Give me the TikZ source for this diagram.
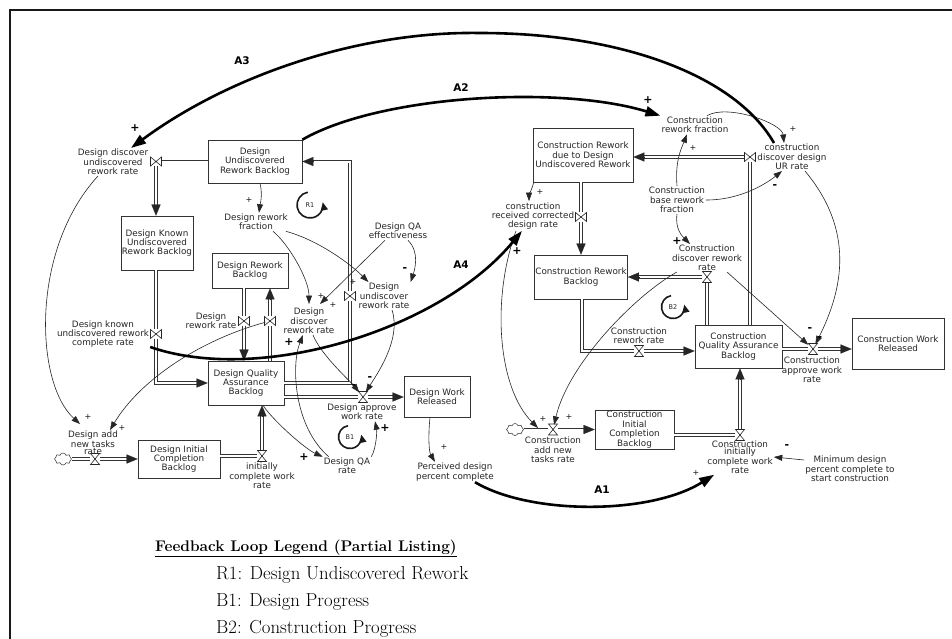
\documentclass[tikz,border=0pt]{standalone}
\usepackage{fontspec}
\usetikzlibrary{arrows.meta,calc,shapes.symbols}
\newfontfamily\labfam{DejaVu Sans}
\newcommand\labfont{\labfam\fontsize{8.8}{9.4}\selectfont}
\begin{document}
\begin{tikzpicture}[x=1pt,y=-1pt,
  box/.style={draw=black!80, line width=0.7pt, fill=white, align=center, font=\labfont, text=black!85, inner sep=1pt},
  lbl/.style={align=center, font=\labfont, text=black!85, inner sep=1pt},
  pipe/.style={draw=black!80, line width=0.6pt, double=white, double distance=2pt, shorten >=10pt},
  pipetip/.style={draw=black!85, line width=0.1pt, -{Triangle[length=11pt,width=9pt]}},
  vnode/.style={inner sep=0pt, minimum size=9pt},
  valve/.style={draw=black!85, fill=white, line width=0.6pt},
  vbow/.pic={\draw[valve] (-5.5,-4.5) -- (5.5,4.5) -- (5.5,-4.5) -- (-5.5,4.5) -- cycle;},
  vhour/.pic={\draw[valve] (-4.5,-5.5) -- (4.5,-5.5) -- (-4.5,5.5) -- (4.5,5.5) -- cycle;},
  source/.style={cloud, cloud puffs=8, aspect=1.4, draw=black!80, line width=0.5pt, minimum width=17pt, minimum height=12pt, inner sep=0pt},
  info/.style={draw=black!85, line width=0.6pt, -{Triangle[length=8.5pt,width=6pt]}},
  bold link/.style={draw=black, line width=2.6pt, -{Triangle[length=15pt,width=10pt]}},
  pol/.style={font=\labfam\fontsize{8}{8}\selectfont, inner sep=0pt, text=black!90},
  polb/.style={font=\labfam\bfseries\fontsize{11}{11}\selectfont, inner sep=0pt},
  alabel/.style={font=\labfam\bfseries\fontsize{10.5}{12}\selectfont, inner sep=0pt},
  looplbl/.style={font=\labfam\fontsize{6.5}{7}\selectfont, inner sep=0pt, text=black!85},
  looparc/.style={draw=black!90, line width=1.6pt, -{Triangle[length=8pt,width=7pt]}},
  legend/.style={anchor=base west, inner sep=0pt, font=\fontsize{18.8}{22}\selectfont}
]
\useasboundingbox (0,0) rectangle (952,638);
\fill[white] (0,0) rectangle (952,638);

% outer frame
\draw[line width=1.8pt, black!90] (10,660) -- (10,10) -- (970,10);

% ---------- stocks ----------
\node[box, minimum width=94pt, minimum height=43pt] (durb) at (255,161.5) {Design\\Undiscovered\\Rework Backlog};
\node[box, minimum width=72pt, minimum height=54pt] (dkurb) at (157,243) {Design Known\\Undiscovered\\Rework Backlog};
\node[box, minimum width=76pt, minimum height=35pt] (drb) at (250,270.5) {Design Rework\\Backlog};
\node[box, minimum width=76pt, minimum height=44pt] (dqab) at (246,383) {Design Quality\\Assurance\\Backlog};
\node[box, minimum width=66pt, minimum height=41pt] (dwr) at (437,396.5) {Design Work\\Released};
\node[box, minimum width=82pt, minimum height=38pt] (dicb) at (179,459) {Design Initial\\Completion\\Backlog};
\node[box, minimum width=100pt, minimum height=54pt] (crdur) at (583,155) {Construction Rework\\due to Design\\Undiscovered Rework};
\node[box, minimum width=92pt, minimum height=44pt] (crb) at (581,277) {Construction Rework\\Backlog};
\node[box, minimum width=87pt, minimum height=43pt] (cqab) at (738.5,346.5) {Construction\\Quality Assurance\\Backlog};
\node[box, minimum width=92pt, minimum height=51pt] (cwr) at (898,343.5) {Construction Work\\Released};
\node[box, minimum width=79pt, minimum height=39pt] (cicb) at (634.5,429.5) {Construction\\Initial\\Completion\\Backlog};

% ---------- sources ----------
\node[source] (cl1) at (63,459) {};
\node[source] (cl2) at (515,429.5) {};

% ---------- valve positions ----------
\node[vnode] (v_ddu) at (156,161.5) {};
\node[vnode] (v_dkc) at (156,334) {};
\node[vnode] (v_drr) at (244,321) {};
\node[vnode] (v_ddr) at (270,321) {};
\node[vnode] (v_dur) at (350,296) {};
\node[vnode] (v_daw) at (363,397) {};
\node[vnode] (v_dant) at (95,459) {};
\node[vnode] (v_icw) at (262,456) {};
\node[vnode] (v_cant) at (553,429.5) {};
\node[vnode] (v_cicw) at (740,435) {};
\node[vnode] (v_caw) at (813,349) {};
\node[vnode] (v_cdr) at (707,277) {};
\node[vnode] (v_crr) at (639,351) {};
\node[vnode] (v_cdd) at (750,157) {};
\node[vnode] (v_crc) at (581,217) {};
\coordinate (k1) at (350,383);
\coordinate (k2) at (350,161.5);
\coordinate (k3) at (156,383);
\coordinate (k4) at (582,351);

% ---------- flows (design) ----------
\draw[pipe] (cl1.east) -- (v_dant) -- (dicb.west);
\draw[pipetip] ($(dicb.west)+(-11,0)$) -- (dicb.west);
\draw[pipe] (dicb.east |- v_icw) -- (v_icw) -- (v_icw |- dqab.south);
\draw[pipetip] ($(v_icw |- dqab.south)+(0,11)$) -- (v_icw |- dqab.south);
\draw[pipe] (dqab.east |- v_daw) -- (v_daw) -- (dwr.west |- v_daw);
\draw[pipetip] ($(dwr.west |- v_daw)+(-11,0)$) -- (dwr.west |- v_daw);
\draw[pipe] (v_ddr |- dqab.north) -- (v_ddr) -- (v_ddr |- drb.south);
\draw[pipetip] ($(v_ddr |- drb.south)+(0,11)$) -- (v_ddr |- drb.south);
\draw[pipe] (v_drr |- drb.south) -- (v_drr) -- (v_drr |- dqab.north);
\draw[pipetip] ($(v_drr |- dqab.north)+(0,-11)$) -- (v_drr |- dqab.north);
\draw[pipe] (dqab.east |- k1) -- (k1) -- (v_dur) -- (k2) -- (durb.east |- k2);
\draw[pipetip] ($(durb.east |- k2)+(11,0)$) -- (durb.east |- k2);
\draw[pipe] (durb.west) -- (v_ddu) -- (v_ddu |- dkurb.north);
\draw[pipetip] ($(v_ddu |- dkurb.north)+(0,-11)$) -- (v_ddu |- dkurb.north);
\draw[pipe] (v_dkc |- dkurb.south) -- (v_dkc) -- (k3) -- (dqab.west);
\draw[pipetip] ($(dqab.west)+(-11,0)$) -- (dqab.west);

% ---------- flows (construction) ----------
\draw[pipe] (cl2.east) -- (v_cant) -- (cicb.west |- v_cant);
\draw[pipetip] ($(cicb.west |- v_cant)+(-11,0)$) -- (cicb.west |- v_cant);
\draw[pipe] (cicb.east |- v_cicw) -- (v_cicw) -- (v_cicw |- cqab.south);
\draw[pipetip] ($(v_cicw |- cqab.south)+(0,11)$) -- (v_cicw |- cqab.south);
\draw[pipe] (cqab.east |- v_caw) -- (v_caw) -- (cwr.west |- v_caw);
\draw[pipetip] ($(cwr.west |- v_caw)+(-11,0)$) -- (cwr.west |- v_caw);
\draw[pipe] (v_cdr |- cqab.north) -- (v_cdr) -- (crb.east |- v_cdr);
\draw[pipetip] ($(crb.east |- v_cdr)+(11,0)$) -- (crb.east |- v_cdr);
\draw[pipe] (k4 |- crb.south) -- (k4) -- (v_crr) -- (cqab.west |- v_crr);
\draw[pipetip] ($(cqab.west |- v_crr)+(-11,0)$) -- (cqab.west |- v_crr);
\draw[pipe] (v_cdd |- cqab.north) -- (v_cdd) -- (crdur.east |- v_cdd);
\draw[pipetip] ($(crdur.east |- v_cdd)+(11,0)$) -- (crdur.east |- v_cdd);
\draw[pipe] (v_crc |- crdur.south) -- (v_crc) -- (v_crc |- crb.north);
\draw[pipetip] ($(v_crc |- crb.north)+(0,-11)$) -- (v_crc |- crb.north);

% ---------- valves ----------
\foreach \v in {v_ddu,v_dkc,v_drr,v_ddr,v_dur,v_cdd,v_crc} \pic at (\v) {vbow};
\foreach \v in {v_daw,v_dant,v_icw,v_cant,v_cicw,v_caw,v_cdr,v_crr} \pic at (\v) {vhour};

% ---------- auxiliaries and rate labels ----------
\node[lbl] (ddurl) at (113,162) {Design discover\\undiscovered\\rework rate};
\node[lbl] (drfl) at (256,222) {Design rework\\fraction};
\node[lbl] (dqae) at (398,231) {Design QA\\effectiveness};
\node[lbl] (dudl) at (384,296) {Design\\undiscover\\rework rate};
\node[lbl] (ddrl) at (309,321) {Design\\discover\\rework rate};
\node[lbl] (drrl) at (211,321) {Design\\rework rate};
\node[lbl] (dkcl) at (103,334) {Design known\\undiscovered rework\\complete rate};
\node[lbl] (dawl) at (362,412) {Design approve\\work rate};
\node[lbl] (dqar) at (347,466) {Design QA\\rate};
\node[lbl] (icwl) at (262,476) {initially\\complete work\\rate};
\node[lbl, font=\labfam\fontsize{8.8}{7.2}\selectfont] (dantl) at (93,443) {Design add\\new tasks\\rate};
\node[lbl] (pdpc) at (455,472) {Perceived design\\percent complete};
\node[lbl] (crfl) at (695,125) {Construction\\rework fraction};
\node[lbl] (cddurl) at (792,157) {construction\\discover design\\UR rate};
\node[lbl] (cbrf) at (677,200) {Construction\\base rework\\fraction};
\node[lbl] (crcl) at (533,216) {construction\\received corrected\\design rate};
\node[lbl] (cdrl) at (707,258) {Construction\\discover rework\\rate};
\node[lbl] (crrl) at (639,336) {Construction\\rework rate};
\node[lbl] (cawl) at (812,370) {Construction\\approve work\\rate};
\node[lbl] (cantl) at (553,450) {Construction\\add new\\tasks rate};
\node[lbl, font=\labfam\fontsize{8.8}{7.6}\selectfont] (ciwl) at (740,457) {Construction\\initially\\complete work\\rate};
\node[lbl] (mdpc) at (850,469) {Minimum design\\percent complete to\\start construction};

% ---------- loop markers ----------
\node[looplbl] (r1) at (310,205) {R1};
\draw[looparc] (r1.center) ++(100:13pt) arc[start angle=100, end angle=372, radius=13pt];
\node[looplbl] (b1) at (350,437) {B1};
\draw[looparc] (b1.center) ++(100:11.5pt) arc[start angle=100, end angle=372, radius=11.5pt];
\node[looplbl] (b2) at (673,307) {B2};
\draw[looparc] (b2.center) ++(100:11.5pt) arc[start angle=100, end angle=372, radius=11.5pt];

% ---------- information links (design) ----------
\draw[info] ([xshift=5pt]durb.south) .. controls +(3,12) and +(1,-8) .. ([xshift=3pt]drfl.north);
\draw[info] ([xshift=17pt]drfl.south) .. controls +(15,12) and +(0,-25) .. ([yshift=3pt]ddrl.north);
\draw[info] ([xshift=-3pt]drfl.south east) .. controls +(30,8) and +(-20,-20) .. ([xshift=11pt]dudl.north west);
\draw[info] ([xshift=10pt]dqae.south) .. controls +(12,12) and +(4,-12) .. (dudl.north east);
\draw[info] ([xshift=-13pt]dqae.south) -- ([xshift=11pt,yshift=3pt]ddrl.north);
\draw[info] ([xshift=8pt]dudl.south) .. controls +(10,30) and +(12,-20) .. (v_daw);
\draw[info] ([xshift=4pt]ddrl.south) .. controls +(8,20) and +(-12,-15) .. (v_daw);
\draw[info] ([xshift=17pt]dqab.south) .. controls +(10,15) and +(-18,-8) .. (dqar.north west);
\draw[info] ([xshift=6pt]dqar.north west) .. controls +(-35,-30) and +(-12,30) .. ([xshift=-6pt]ddrl.south);
\draw[info] (dqar.north east) .. controls +(5,-8) and +(2,10) .. ([xshift=13pt]dawl.south);
\draw[info] ([xshift=-7pt]dwr.south) .. controls +(-2,20) and +(-6,-10) .. ([xshift=-20pt]pdpc.north);
\draw[info] ([xshift=-15pt]ddurl.south) .. controls (30,250) and (35,383) .. ([xshift=-13pt,yshift=6pt]dantl.north);
\draw[info] (v_ddr) .. controls (200,340) and (140,380) .. ([xshift=17pt]dantl.north);

% ---------- information links (construction) ----------
\draw[info] ([xshift=12pt]crfl.north) .. controls +(20,-12) and +(-2,-20) .. ([xshift=-8pt]cddurl.north);
\draw[info] (cbrf.north) .. controls +(-2,-25) and +(-6,15) .. ([xshift=-8pt]crfl.south);
\draw[info] (cbrf.east) .. controls +(35,0) and +(-15,12) .. ([xshift=-10pt]cddurl.south);
\draw[info] (cbrf.south) .. controls +(-2,15) and +(-8,-8) .. ([xshift=-17pt]cdrl.north);
\draw[info] ([xshift=13pt]cddurl.south) .. controls +(50,60) and +(30,-60) .. (v_caw);
\draw[info] ([xshift=20pt]cdrl.south) -- (v_caw);
\draw[info] ([xshift=1pt]crdur.south west) .. controls +(-2,8) and +(0,-6) .. ([xshift=-4pt]crcl.north);
\draw[info] ([xshift=-17pt]crcl.south) .. controls (491,300) and (498,388) .. ([xshift=-15pt,yshift=8pt]cantl.north);
\draw[info] ([xshift=6pt]cdrl.south west) .. controls (633,297) and (568,365) .. (v_cant);
\draw[info] ([yshift=9pt]mdpc.west) -- (ciwl.east);

% ---------- cross-phase links ----------
\coordinate (a3top) at (480,33);
\draw[bold link] ([xshift=-18pt]cddurl.north) .. controls (735,75) and (620,33) .. (a3top)
                 .. controls (360,31) and (230,75) .. ([xshift=18pt]ddurl.north);
\draw[bold link] (durb.north east) .. controls (380,95) and (560,85) .. (crfl.north west);
\draw[bold link] ([yshift=-13pt]dkcl.east) .. controls (260,385) and (440,330) .. ([xshift=-11pt]crcl.south);
\draw[bold link] ([xshift=20pt]pdpc.south) .. controls (530,515) and (650,515) .. ([xshift=8pt]ciwl.south west);
\node[alabel] (a3) at (242,61) {A3};
\node[alabel] (a2) at (461,88) {A2};
\node[alabel] (a4) at (461,265) {A4};
\node[alabel] (a1) at (602,490) {A1};

% ---------- polarities ----------
\foreach \p/\q in {249/200, 321/296, 333/305, 353/282, 444/447, 88/417, 122/428,
                   793/129, 693/148, 540/192, 543/419, 569/417, 696/473}
  \node[pol] at (\p,\q) {+};
\foreach \p/\q in {289/342, 304/457, 385/428, 677/241, 648/100, 135/128, 517/251}
  \node[polb] at (\p,\q) {+};
\foreach \p/\q in {405/270, 370/379, 354/387, 775/187, 820/339, 810/330, 787/447}
  \node[polb] at (\p,\q) {-};

% ---------- legend ----------
\node[anchor=base west, inner sep=0pt, font=\bfseries\fontsize{15.4}{18}\selectfont] (lgt) at (155,551) {\underline{Feedback Loop Legend (Partial Listing)}};
\node[legend] (lr1) at (216,579) {R1: Design Undiscovered Rework};
\node[legend] (lb1) at (216,606) {B1: Design Progress};
\node[legend] (lb2) at (216,633) {B2: Construction Progress};
\end{tikzpicture}
\end{document}
